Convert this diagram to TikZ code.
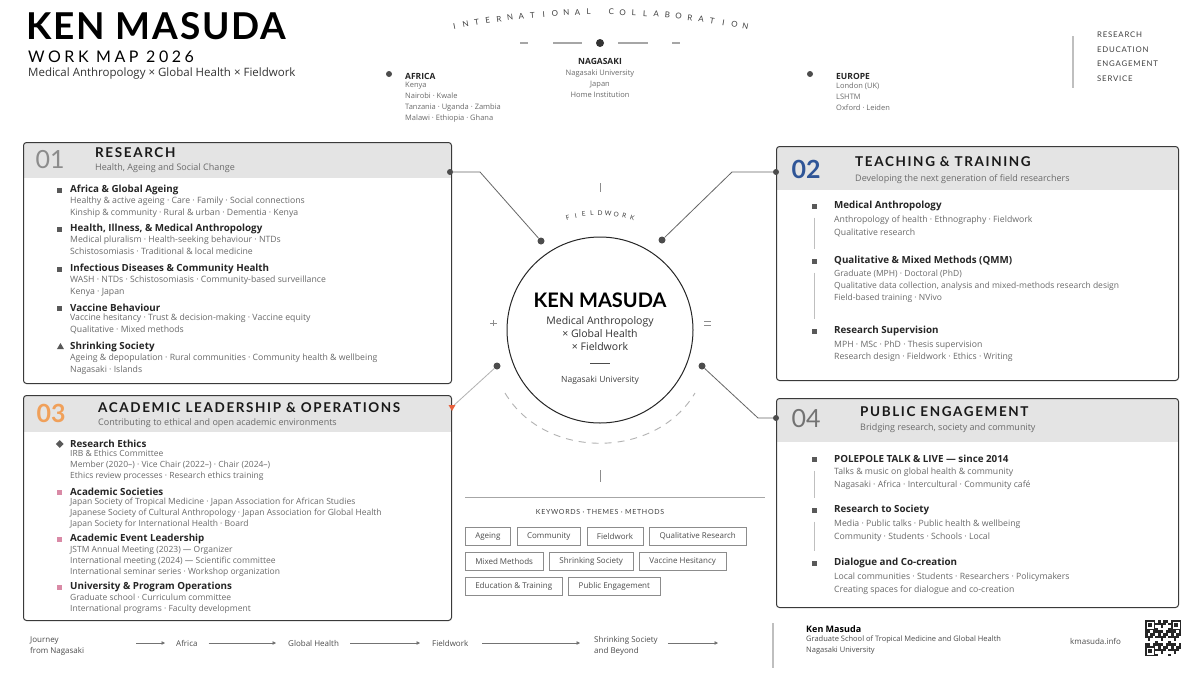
\documentclass[tikz,border=0pt]{standalone}
\usepackage{fontspec}
\setmainfont{Open Sans}
\newfontfamily\titlefont[LetterSpace=5]{Lato}
\newfontfamily\mapfont[LetterSpace=22]{Lato}
\newfontfamily\headfont[LetterSpace=12]{Lato}
\newfontfamily\capsfont[LetterSpace=10]{Lato}
\newfontfamily\plainfont{Lato}
\usetikzlibrary{positioning,arrows.meta,shapes.geometric}

\definecolor{bandgray}{HTML}{E4E4E4}
\definecolor{edgegray}{HTML}{3A3A3A}
\definecolor{subgray}{HTML}{6A6A6A}
\definecolor{numblue}{HTML}{2F5597}
\definecolor{numorange}{HTML}{F0A05A}
\definecolor{markpink}{HTML}{D98AA6}
\definecolor{markred}{HTML}{E8603C}

\begin{document}
\begin{tikzpicture}[x=1pt,y=-1pt,
    panel/.style={draw=edgegray,line width=1pt,rounded corners=3pt,anchor=north west,inner sep=0pt},
    band/.style={fill=bandgray},
    num/.style={anchor=center,inner sep=0pt,font=\plainfont\fontsize{25}{25}\selectfont,text=black!45},
    head/.style={anchor=west,inner sep=0pt,font=\headfont\bfseries\fontsize{13.5}{13.5}\selectfont,text=black!90},
    tagline/.style={anchor=west,inner sep=0pt,font=\fontsize{9}{9}\selectfont,text=subgray},
    itemtitle/.style={anchor=west,inner sep=0pt,font=\bfseries\fontsize{9.8}{9.8}\selectfont,text=black!85},
    itemtext/.style={anchor=north west,inner sep=0pt,align=left,font=\fontsize{8.7}{11.5}\selectfont,text=subgray},
    bul/.style={rectangle,fill=black!65,minimum size=5pt,inner sep=0pt},
    pinkbul/.style={rectangle,fill=markpink,minimum size=5pt,inner sep=0pt},
    rail/.style={draw=black!25,line width=1.2pt,shorten <=9pt,shorten >=9pt},
    dot/.style={circle,fill=black!70,minimum size=7pt,inner sep=0pt},
    link/.style={draw=black!60,line width=0.8pt},
    placehead/.style={inner sep=0pt,font=\bfseries\fontsize{8.5}{8.5}\selectfont,text=black!85},
    placetext/.style={inner sep=0pt,font=\fontsize{7.5}{11}\selectfont,text=subgray},
    arcletter/.style={inner sep=0pt,font=\plainfont\fontsize{8}{8}\selectfont,text=black!75},
    kw/.style={draw=black!45,line width=0.5pt,inner xsep=10pt,inner ysep=0pt,minimum height=18pt,font=\fontsize{8}{8}\selectfont,text=black!70},
    foot/.style={inner sep=0pt,align=left,font=\fontsize{8}{11}\selectfont,text=black!70},
    tl/.style={draw=black!55,line width=0.7pt,-{Triangle[length=3.5pt,width=3.5pt]}}]

  \useasboundingbox (0,0) rectangle (1200,675);
  \fill[white] (0,0) rectangle (1200,675);

  % header
  \node[anchor=west,inner sep=0pt,font=\titlefont\bfseries\fontsize{37}{37}\selectfont] (title) at (26,26) {KEN MASUDA};
  \node[anchor=west,inner sep=0pt,font=\mapfont\fontsize{16}{16}\selectfont] (workmap) at (28,57) {WORK MAP 2026};
  \node[anchor=west,inner sep=0pt,font=\fontsize{11.5}{11.5}\selectfont,text=black!80] (fields) at (28,74) {Medical Anthropology × Global Health × Fieldwork};

  % international collaboration
  \foreach \ch [count=\k] in {I,N,T,E,R,N,A,T,I,O,N,A,L,{},C,O,L,L,A,B,O,R,A,T,I,O,N}{
    \pgfmathsetmacro\ang{-11.5+(\k-1)*23/26}
    \pgfmathsetmacro\rot{0-(\ang)}
    \node[arcletter,rotate=\rot] at ({600+730*sin(\ang)},{742-730*cos(\ang)}) {\ch};
  }
  \node[circle,fill=black!80,minimum size=8pt,inner sep=0pt] (home) at (600,43) {};
  \draw[black!35,line width=1.5pt] (520,43) -- (528,43) (553,43) -- (582,43) (618,43) -- (648,43) (672,43) -- (680,43);
  \node[placehead] (nagasaki) at (600,61) {NAGASAKI};
  \node[placetext,align=center,below=5pt of nagasaki] (nagasakit) {Nagasaki University\\Japan\\Home Institution};

  \node[dot,minimum size=6pt] (afdot) at (389,74) {};
  \node[placehead,anchor=west] (africa) at (405,76) {AFRICA};
  \node[placetext,anchor=north west,align=left] (africat) at ([yshift=-3pt]africa.south west) {Kenya\\Nairobi · Kwale\\Tanzania · Uganda · Zambia\\Malawi · Ethiopia · Ghana};

  \node[dot,minimum size=6pt] (eudot) at (810,74) {};
  \node[placehead,anchor=west] (europe) at (836,76) {EUROPE};
  \node[placetext,anchor=north west,align=left] (europet) at ([yshift=-3pt]europe.south west) {London (UK)\\LSHTM\\Oxford · Leiden};

  \draw[black!25,line width=2pt] (1073,36) -- (1073,88);
  \node[anchor=north west,inner sep=0pt,align=left,font=\capsfont\fontsize{7.8}{14.5}\selectfont,text=black!75] (roles) at (1097,32) {RESEARCH\\EDUCATION\\ENGAGEMENT\\SERVICE};

  % panels
  \fill[band] (23.5,142.5) rectangle (450.5,178);
  \node[panel,minimum width=428pt,minimum height=241pt] (research) at (23,142) {};
  \fill[band] (776.5,146.5) rectangle (1177.5,190);
  \node[panel,minimum width=402pt,minimum height=234pt] (teaching) at (776,146) {};
  \fill[band] (23.5,395.5) rectangle (450.5,432);
  \node[panel,minimum width=428pt,minimum height=225pt] (leadership) at (23,395) {};
  \fill[band] (776.5,398.5) rectangle (1177.5,442);
  \node[panel,minimum width=402pt,minimum height=209pt] (public) at (776,398) {};

  \node[num] (n1) at (50,160) {01};
  \node[head] (h1) at (95,153) {RESEARCH};
  \node[tagline] (s1) at (95,168) {Health, Ageing and Social Change};
  \node[num,text=numblue,font=\plainfont\bfseries\fontsize{25}{25}\selectfont] (n2) at (806,169) {02};
  \node[head] (h2) at (855,162) {TEACHING \& TRAINING};
  \node[tagline] (s2) at (855,179) {Developing the next generation of field researchers};
  \node[num,text=numorange,font=\plainfont\bfseries\fontsize{25}{25}\selectfont] (n3) at (51,413) {03};
  \node[head] (h3) at (98,408) {ACADEMIC LEADERSHIP \& OPERATIONS};
  \node[tagline] (s3) at (98,423) {Contributing to ethical and open academic environments};
  \node[num,text=black!55] (n4) at (806,419) {04};
  \node[head] (h4) at (860,412) {PUBLIC ENGAGEMENT};
  \node[tagline] (s4) at (860,428) {Bridging research, society and community};

  % 01 research
  \node[itemtitle] (r1) at (70,190) {Africa \& Global Ageing};
  \node[itemtext] (r1t) at ([yshift=-2pt]r1.south west) {Healthy \& active ageing · Care · Family · Social connections\\Kinship \& community · Rural \& urban · Dementia · Kenya};
  \node[bul,left=8pt of r1] (r1b) {};
  \node[itemtitle] (r2) at (70,229) {Health, Illness, \& Medical Anthropology};
  \node[itemtext] (r2t) at ([yshift=-2pt]r2.south west) {Medical pluralism · Health-seeking behaviour · NTDs\\Schistosomiasis · Traditional \& local medicine};
  \node[bul,left=8pt of r2] (r2b) {};
  \node[itemtitle] (r3) at (70,269) {Infectious Diseases \& Community Health};
  \node[itemtext] (r3t) at ([yshift=-2pt]r3.south west) {WASH · NTDs · Schistosomiasis · Community-based surveillance\\Kenya · Japan};
  \node[bul,left=8pt of r3] (r3b) {};
  \node[itemtitle] (r4) at (70,308) {Vaccine Behaviour};
  \node[itemtext] (r4t) at ([yshift=-2pt]r4.south west) {Vaccine hesitancy · Trust \& decision-making · Vaccine equity\\Qualitative · Mixed methods};
  \node[bul,left=8pt of r4] (r4b) {};
  \node[itemtitle] (r5) at (70,347) {Shrinking Society};
  \node[itemtext] (r5t) at ([yshift=-2pt]r5.south west) {Ageing \& depopulation · Rural communities · Community health \& wellbeing\\Nagasaki · Islands};
  \node[regular polygon,regular polygon sides=3,fill=black!65,minimum size=8pt,inner sep=0pt,left=7pt of r5] (r5b) {};

  % 02 teaching
  \node[itemtitle] (t1) at (834,206) {Medical Anthropology};
  \node[itemtext,font=\fontsize{8.7}{12.5}\selectfont] (t1t) at ([yshift=-5pt]t1.south west) {Anthropology of health · Ethnography · Fieldwork\\Qualitative research};
  \node[bul,left=17pt of t1] (t1b) {};
  \node[itemtitle] (t2) at (834,261) {Qualitative \& Mixed Methods (QMM)};
  \node[itemtext,font=\fontsize{8.5}{12}\selectfont] (t2t) at ([yshift=-4pt]t2.south west) {Graduate (MPH) · Doctoral (PhD)\\Qualitative data collection, analysis and mixed-methods research design\\Field-based training · NVivo};
  \node[bul,left=17pt of t2] (t2b) {};
  \node[itemtitle] (t3) at (834,331) {Research Supervision};
  \node[itemtext,font=\fontsize{8.7}{12}\selectfont] (t3t) at ([yshift=-5pt]t3.south west) {MPH · MSc · PhD · Thesis supervision\\Research design · Fieldwork · Ethics · Writing};
  \node[bul,left=17pt of t3] (t3b) {};
  \draw[rail] (t1b) -- (t2b);
  \draw[rail] (t2b) -- (t3b);

  % 03 leadership
  \node[itemtitle] (a1) at (70,444) {Research Ethics};
  \node[itemtext,font=\fontsize{8.5}{11}\selectfont] (a1t) at ([yshift=-2pt]a1.south west) {IRB \& Ethics Committee\\Member (2020–) · Vice Chair (2022–) · Chair (2024–)\\Ethics review processes · Research ethics training};
  \node[diamond,fill=black!65,minimum size=8pt,inner sep=0pt,left=6pt of a1] (a1b) {};
  \node[itemtitle] (a2) at (70,492) {Academic Societies};
  \node[itemtext,font=\fontsize{8.5}{11}\selectfont] (a2t) at ([yshift=-2pt]a2.south west) {Japan Society of Tropical Medicine · Japan Association for African Studies\\Japanese Society of Cultural Anthropology · Japan Association for Global Health\\Japan Society for International Health · Board};
  \node[pinkbul,left=8pt of a2] (a2b) {};
  \node[itemtitle] (a3) at (70,539) {Academic Event Leadership};
  \node[itemtext,font=\fontsize{8.5}{11}\selectfont] (a3t) at ([yshift=-2pt]a3.south west) {JSTM Annual Meeting (2023) — Organizer\\International meeting (2024) — Scientific committee\\International seminar series · Workshop organization};
  \node[pinkbul,left=8pt of a3] (a3b) {};
  \node[itemtitle] (a4) at (70,587) {University \& Program Operations};
  \node[itemtext,font=\fontsize{8.5}{11}\selectfont] (a4t) at ([yshift=-2pt]a4.south west) {Graduate school · Curriculum committee\\International programs · Faculty development};
  \node[pinkbul,left=8pt of a4] (a4b) {};

  % 04 public engagement
  \node[itemtitle] (p1) at (834,459) {POLEPOLE TALK \& LIVE — since 2014};
  \node[itemtext,font=\fontsize{8.7}{12.5}\selectfont] (p1t) at ([yshift=-5pt]p1.south west) {Talks \& music on global health \& community\\Nagasaki · Africa · Intercultural · Community café};
  \node[bul,left=17pt of p1] (p1b) {};
  \node[itemtitle] (p2) at (834,510) {Research to Society};
  \node[itemtext,font=\fontsize{8.7}{12.5}\selectfont] (p2t) at ([yshift=-5pt]p2.south west) {Media · Public talks · Public health \& wellbeing\\Community · Students · Schools · Local};
  \node[bul,left=17pt of p2] (p2b) {};
  \node[itemtitle] (p3) at (834,563) {Dialogue and Co-creation};
  \node[itemtext,font=\fontsize{8.7}{12.5}\selectfont] (p3t) at ([yshift=-5pt]p3.south west) {Local communities · Students · Researchers · Policymakers\\Creating spaces for dialogue and co-creation};
  \node[bul,left=17pt of p3] (p3b) {};
  \draw[rail] (p1b) -- (p2b);
  \draw[rail] (p2b) -- (p3b);

  % hub
  \node[circle,draw=black!85,line width=1pt,minimum size=186pt,inner sep=0pt] (hub) at (600,330) {};
  \node[inner sep=0pt,font=\plainfont\bfseries\fontsize{20}{20}\selectfont] (hubname) at (600,300) {KEN MASUDA};
  \node[inner sep=0pt,align=center,font=\fontsize{10.5}{13}\selectfont,text=black!80,below=9pt of hubname] (hubfields) {Medical Anthropology\\× Global Health\\× Fieldwork};
  \draw[black!70,line width=0.8pt] (590,363) -- (610,363);
  \node[inner sep=0pt,font=\fontsize{8.5}{8.5}\selectfont,text=black!75] (hubuni) at (600,380) {Nagasaki University};
  \foreach \ch [count=\k] in {F,I,E,L,D,W,O,R,K}{
    \pgfmathsetmacro\ang{-16+(\k-1)*4}
    \pgfmathsetmacro\rot{0-(\ang)}
    \node[arcletter,font=\plainfont\fontsize{6.5}{6.5}\selectfont,rotate=\rot] at ({600+117*sin(\ang)},{330-117*cos(\ang)}) {\ch};
  }
  \draw[black!30,line width=0.9pt,dash pattern=on 7pt off 6pt] (505,393) .. controls (545,460) and (655,460) .. (695,393);
  \draw[black!45,line width=0.7pt] (600,183) -- (600,192) (490,323) -- (497,323) (493,320) -- (493,326) (704,321) -- (711,321) (704,325) -- (711,325) (600,470) -- (600,482);

  % connectors
  \node[dot] (hd1) at (541,241) {};
  \node[dot] (hd2) at (662,240) {};
  \node[dot] (hd3) at (497,366) {};
  \node[dot] (hd4) at (702,366) {};
  \node[dot,minimum size=6pt] (rdot) at (450,172) {};
  \node[dot,minimum size=6pt] (tdot) at (776,172) {};
  \node[dot,minimum size=6pt] (pdot) at (776,418) {};
  \node[regular polygon,regular polygon sides=3,shape border rotate=180,fill=markred,minimum size=8pt,inner sep=0pt] (lmark) at (452,407) {};
  \coordinate (rbend) at (480,172);
  \coordinate (tbend) at (732,172);
  \coordinate (pbend) at (758,418);
  \draw[link] (rdot) -- (rbend) -- (hd1);
  \draw[link] (tdot) -- (tbend) -- (hd2);
  \draw[link] (hd4) -- (pbend) -- (pdot);
  \draw[link,draw=black!30] (hd3) -- (lmark);

  % keywords
  \draw[black!35,line width=0.6pt] (465,497) -- (765,497);
  \node[inner sep=0pt,font=\capsfont\fontsize{7}{7}\selectfont,text=black!75] (kwhead) at (600,512) {KEYWORDS · THEMES · METHODS};
  \node[kw,anchor=north west] (k1) at (465,527) {Ageing};
  \node[kw,right=6pt of k1] (k2) {Community};
  \node[kw,right=6pt of k2] (k3) {Fieldwork};
  \node[kw,right=6pt of k3] (k4) {Qualitative Research};
  \node[kw,anchor=north west] (k5) at (465,552) {Mixed Methods};
  \node[kw,right=6pt of k5] (k6) {Shrinking Society};
  \node[kw,right=6pt of k6] (k7) {Vaccine Hesitancy};
  \node[kw,anchor=north west] (k8) at (465,577) {Education \& Training};
  \node[kw,right=6pt of k8] (k9) {Public Engagement};

  % footer
  \node[foot,anchor=west] (fj) at (30,646) {Journey\\from Nagasaki};
  \coordinate (t0) at (136,643);
  \node[foot,anchor=west] (fa) at (176,643) {Africa};
  \node[foot,anchor=west] (fg) at (288,643) {Global Health};
  \node[foot,anchor=west] (ff) at (432,643) {Fieldwork};
  \node[foot,anchor=west] (fs) at (594,646) {Shrinking Society\\and Beyond};
  \coordinate (tend) at (718,643);
  \draw[tl] (t0) -- ([xshift=-11pt]fa.west);
  \draw[tl] ([xshift=11pt]fa.east) -- ([xshift=-12pt]fg.west);
  \draw[tl] ([xshift=11pt]fg.east) -- ([xshift=-12pt]ff.west);
  \draw[tl] ([xshift=14pt]ff.east) -- ([xshift=-14pt,yshift=3pt]fs.west);
  \draw[tl] ([xshift=10pt,yshift=3pt]fs.east) -- (tend);
  \draw[black!25,line width=2pt] (773,623) -- (773,668);
  \node[inner sep=0pt,anchor=west,font=\bfseries\fontsize{9}{9}\selectfont] (fname) at (806,629) {Ken Masuda};
  \node[foot,anchor=north west,font=\fontsize{7.5}{11}\selectfont] (faff) at ([yshift=-3pt]fname.south west) {Graduate School of Tropical Medicine and Global Health\\Nagasaki University};
  \node[foot,anchor=west] (fweb) at (1070,641) {kmasuda.info};

  % qr
  \foreach \i in {0,...,13}{
    \foreach \j in {0,...,13}{
      \pgfmathtruncatemacro\q{mod(\i*\i*3+\j*5+\i*\j*7+\j*\j,5)}
      \ifnum\q<3 \fill[black!85] (1145+\i*2.6,620+\j*2.6) rectangle ++(2.6,2.6);\fi
    }
  }
  \foreach \cx/\cy in {1145/620,1171/620,1145/646}{
    \fill[black!85] (\cx,\cy) rectangle ++(10.4,10.4);
    \fill[white] (\cx+1.6,\cy+1.6) rectangle ++(7.2,7.2);
    \fill[black!85] (\cx+3.4,\cy+3.4) rectangle ++(3.6,3.6);
  }
\end{tikzpicture}
\end{document}
